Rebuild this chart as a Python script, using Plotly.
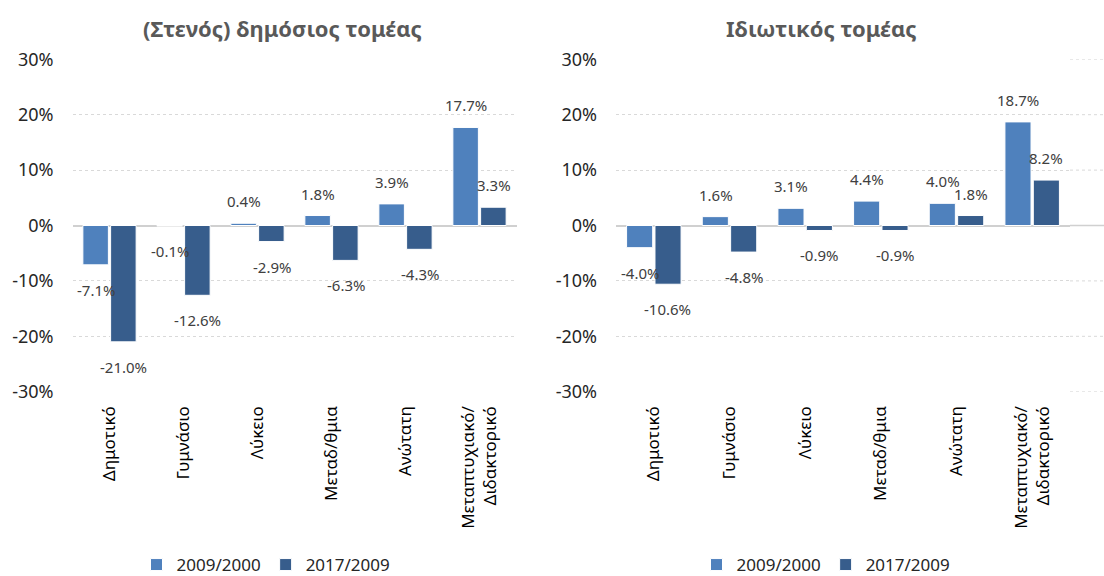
import plotly.graph_objects as go

categories = ["Δημοτικό", "Γυμνάσιο", "Λύκειο", "Μεταδ/θμια", "Ανώτατη", "Μεταπτυχιακό/<br>Διδακτορικό"]
series_names = ["2009/2000", "2017/2009"]
public_2009_2000 = [-7.1, -0.1, 0.4, 1.8, 3.9, 17.7]
public_2017_2009 = [-21.0, -12.6, -2.9, -6.3, -4.3, 3.3]
private_2009_2000 = [-4.0, 1.6, 3.1, 4.4, 4.0, 18.7]
private_2017_2009 = [-10.6, -4.8, -0.9, -0.9, 1.8, 8.2]
panel_titles = ["(Στενός) δημόσιος τομέας", "Ιδιωτικός τομέας"]
y_ticks = [-30, -20, -10, 0, 10, 20, 30]

colors = ["#4F81BD", "#375D8C"]
FONT = "Noto Sans, Open Sans, sans-serif"
W, H = 1104, 576

fig = go.Figure()

panels = [
    (public_2009_2000, public_2017_2009, "x", "y", "legend"),
    (private_2009_2000, private_2017_2009, "x2", "y2", "legend2"),
]

annotations = []
for pi, (s1, s2, xa, ya, lg) in enumerate(panels):
    for si, vals in enumerate([s1, s2]):
        fig.add_trace(go.Bar(
            x=categories, y=vals, name=series_names[si],
            marker=dict(color=colors[si], line=dict(color="white", width=1)),
            xaxis=xa, yaxis=ya, legend=lg, showlegend=True,
            hoverinfo="skip",
        ))
        for c, v in zip(categories, vals):
            annotations.append(dict(
                x=c, y=v, xref=xa, yref=ya,
                text=f"{v:.1f}%", showarrow=False,
                xshift=(-14 if si == 0 else 14),
                yshift=(22 if v >= 0 else -25),
                yanchor="middle", xanchor="center",
                font=dict(family=FONT, size=15, color="#404040"),
            ))

# panel titles
title_x = [283 / W, 821 / W]
for t, tx in zip(panel_titles, title_x):
    annotations.append(dict(
        x=tx, y=1 - 28 / H, xref="paper", yref="paper",
        text=f"<b>{t}</b>", showarrow=False,
        xanchor="center", yanchor="middle",
        font=dict(family=FONT, size=22, color="#595959"),
    ))

# extend right-panel gridlines to the right edge (as in the reference)
shapes = []
for v in y_ticks:
    if v == 0:
        continue
    shapes.append(dict(type="line", xref="paper", yref="y2", x0=1070 / W, x1=1, y0=v, y1=v,
                       line=dict(color="#D9D9D9", width=1, dash="dot"), layer="below"))
shapes.append(dict(type="line", xref="paper", yref="y2", x0=1070 / W, x1=1, y0=0, y1=0,
                   line=dict(color="#D0D0D0", width=1.5), layer="below"))

ydom = [1 - 391.7 / H, 1 - 59.3 / H]
axis_common_y = dict(
    range=[-30, 30], tickvals=y_ticks, ticktext=[f"{v}%" for v in y_ticks],
    showgrid=True, gridcolor="#D9D9D9", griddash="dot", gridwidth=1,
    zeroline=True, zerolinecolor="#D0D0D0", zerolinewidth=1.5,
    showline=False, ticks="", ticklabelstandoff=18, automargin=False,
    tickfont=dict(family=FONT, size=18, color="#262626"),
    domain=ydom,
)
axis_common_x = dict(
    tickangle=-90, showline=False, showgrid=False, ticks="", automargin=False,
    tickfont=dict(family=FONT, size=17, color="#000000"),
    ticklabelstandoff=10,
)

fig.update_layout(
    width=W, height=H,
    margin=dict(l=0, r=0, t=0, b=0, autoexpand=False),
    paper_bgcolor="white", plot_bgcolor="white",
    barmode="group", bargap=0.25, bargroupgap=0.08,
    xaxis=dict(domain=[72.5 / W, 516.5 / W], anchor="y", **axis_common_x),
    yaxis=dict(anchor="x", **axis_common_y),
    xaxis2=dict(domain=[616 / W, 1070 / W], anchor="y2", **axis_common_x),
    yaxis2=dict(anchor="x2", **axis_common_y),
    legend=dict(orientation="h", x=266 / W, y=1 - 565 / H, xanchor="center", yanchor="middle",
                font=dict(family=FONT, size=17, color="#262626"), itemwidth=30,
                bgcolor="rgba(0,0,0,0)"),
    legend2=dict(orientation="h", x=826 / W, y=1 - 565 / H, xanchor="center", yanchor="middle",
                 font=dict(family=FONT, size=17, color="#262626"), itemwidth=30,
                 bgcolor="rgba(0,0,0,0)"),
    annotations=annotations,
    shapes=shapes,
    font=dict(family=FONT),
)

fig.write_html("out.html", config={"displayModeBar": False},
               post_script="document.body.style.margin='0';document.body.style.overflow='hidden';")
